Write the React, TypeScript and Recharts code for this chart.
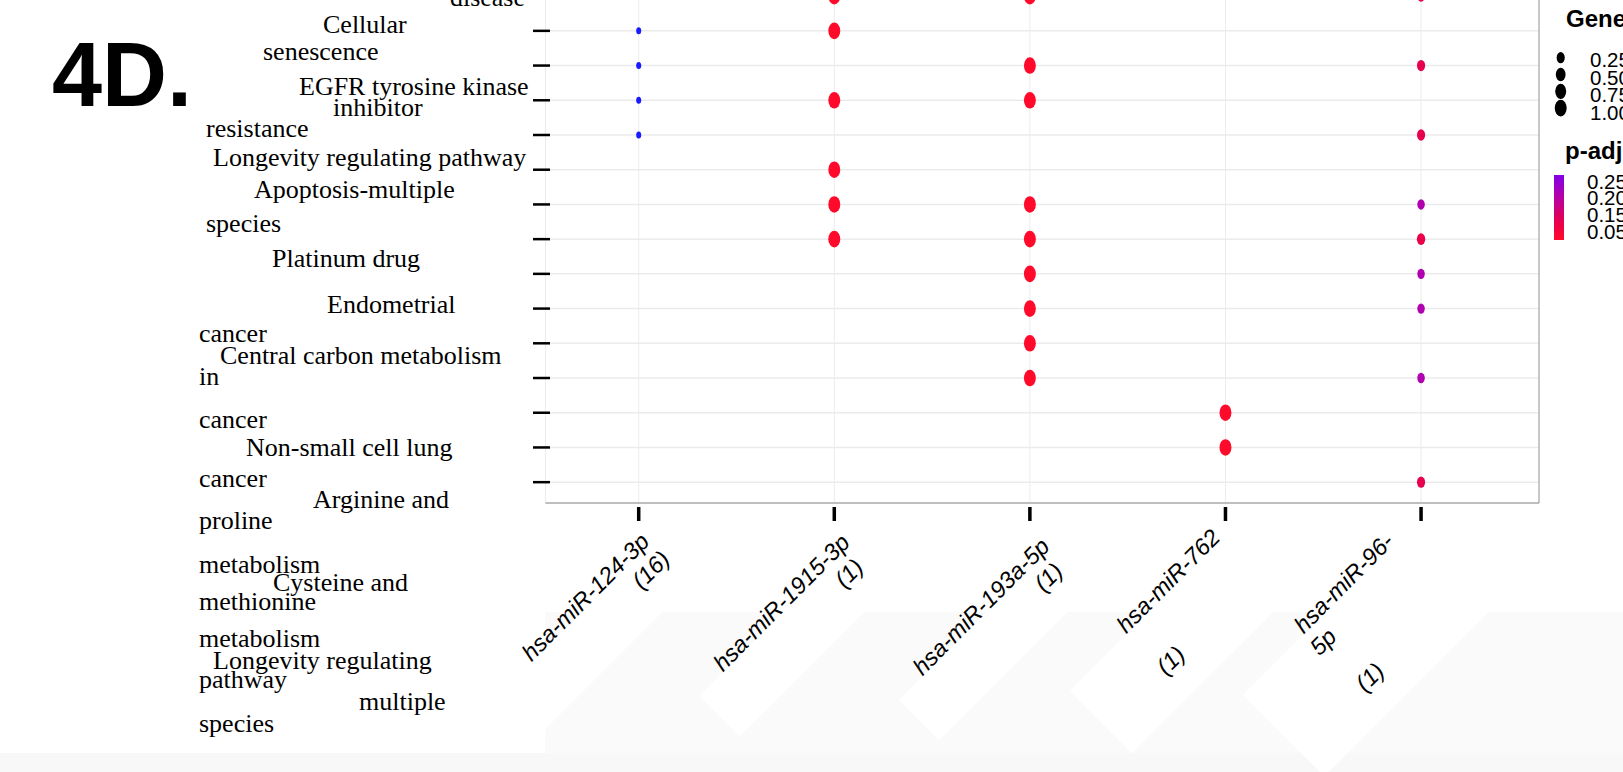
import { CartesianGrid, Legend, ReferenceLine, Scatter, ScatterChart, XAxis, YAxis } from "recharts";

// miRNAs on the x axis, with their gene counts
const mirnas = ["hsa-miR-124-3p", "hsa-miR-1915-3p", "hsa-miR-193a-5p", "hsa-miR-762", "hsa-miR-96-5p"];
const mirnaCounts = [16, 1, 1, 1, 1];

// pathways on the y axis (top row is cut off in the source)
const pathways = [
    "disease",
    "Cellular senescence",
    "EGFR tyrosine kinase inhibitor resistance",
    "Longevity regulating pathway",
    "Apoptosis-multiple species",
    "Platinum drug",
    "Endometrial cancer",
    "Central carbon metabolism in cancer",
    "Non-small cell lung cancer",
    "Arginine and proline metabolism",
    "Cysteine and methionine metabolism",
    "Longevity regulating pathway multiple species",
    "",
    "",
    "",
];

// [pathway row, GeneRatio, p.adjust]
const mir124 = [[0, 0.0625, 0.12], [1, 0.0625, 0.45], [2, 0.0625, 0.45], [3, 0.0625, 0.45], [4, 0.0625, 0.45]];
const mir1915 = [[0, 1, 0.03], [1, 1, 0.03], [3, 1, 0.03], [5, 1, 0.03], [6, 1, 0.03], [7, 1, 0.03]];
const mir193a = [[0, 1, 0.03], [2, 1, 0.03], [3, 1, 0.03], [6, 1, 0.03], [7, 1, 0.03], [8, 1, 0.03], [9, 1, 0.03], [10, 1, 0.03], [11, 1, 0.03]];
const mir762 = [[12, 1, 0.03], [13, 1, 0.03]];
const mir96 = [[0, 0.25, 0.1], [2, 0.25, 0.1], [4, 0.25, 0.1], [6, 0.18, 0.2], [7, 0.28, 0.09], [8, 0.18, 0.2], [9, 0.18, 0.2], [11, 0.18, 0.2], [14, 0.25, 0.1]];
const seriesByMirna = [mir124, mir1915, mir193a, mir762, mir96];

// legend
const sizeLegendValues = [0.25, 0.5, 0.75, 1.0];
const sizeLegendLabels = ["0.25", "0.50", "0.75", "1.00"];
const padjLegendLabels = ["0.25", "0.20", "0.15", "0.05"];

// colour scale for p.adjust
const pStops = [0.03, 0.1, 0.2, 0.27, 0.45];
const pColors = ["#ff0a2a", "#e6004f", "#b000b0", "#8000e6", "#1a1aff"];

// tick label text as it is wrapped in the figure
const yLabelLines = [
    ["disease"],
    ["Cellular", "senescence"],
    ["EGFR tyrosine kinase", "inhibitor", "resistance"],
    ["Longevity regulating pathway"],
    ["Apoptosis-multiple", "species"],
    ["Platinum drug"],
    ["Endometrial", "cancer"],
    ["Central carbon metabolism", "in", "cancer"],
    ["Non-small cell lung", "cancer"],
    ["Arginine and", "proline", "metabolism"],
    ["Cysteine and", "methionine", "metabolism"],
    ["Longevity regulating", "pathway", "multiple", "species"],
];
const xLabelLines = [
    ["hsa-miR-124-3p", "(16)"],
    ["hsa-miR-1915-3p", "(1)"],
    ["hsa-miR-193a-5p", "(1)"],
    ["hsa-miR-762", "(1)"],
    ["hsa-miR-96-", "5p", "(1)"],
];

// ---- layout / style ----
const OFF = 40; // svg is shifted up so the top row falls off the page
const yLabelPos: [number, number, string?][][] = [
    [[525, 6, "end"]],
    [[323, 33], [263, 60]],
    [[299, 95], [333, 116], [206, 137]],
    [[213, 166]],
    [[254, 198], [206, 232]],
    [[272, 267]],
    [[327, 313], [199, 342]],
    [[220, 364], [199, 385], [199, 428]],
    [[246, 456], [199, 487]],
    [[313, 508], [199, 529], [199, 573]],
    [[273, 591], [199, 610], [199, 647]],
    [[213, 669], [199, 688], [359, 710], [199, 732]],
];
const xLabelShift = [12, 17, 21, -4, -26];
const xLabelTop = [543, 544, 548, 539, 543];
const xLinePos: [number, number, string][][] = [
    [[0, 0, "end"], [2, 27, "end"]],
    [[0, 0, "end"], [-8, 27, "end"]],
    [[0, 0, "end"], [-8, 27, "end"]],
    [[0, 0, "end"], [-136, 58, "start"]],
    [[0, 0, "end"], [-134, 27, "start"], [-127, 85, "start"]],
];

const hex = (h: string) => [1, 3, 5].map((i) => parseInt(h.slice(i, i + 2), 16));
function padjColor(p: number) {
    if (p <= pStops[0]) return pColors[0];
    for (let i = 1; i < pStops.length; i++) {
        if (p <= pStops[i]) {
            const t = (p - pStops[i - 1]) / (pStops[i] - pStops[i - 1]);
            const a = hex(pColors[i - 1]);
            const b = hex(pColors[i]);
            const c = a.map((v, k) => Math.round(v + (b[k] - v) * t));
            return `rgb(${c[0]},${c[1]},${c[2]})`;
        }
    }
    return pColors[pColors.length - 1];
}
const radiusFor = (r: number) => 3.5 + 4.8 * Math.sqrt(Math.max(0, (r - 0.0625) / 0.9375));

const Bubble = (props: any) => {
    const { cx, cy, payload } = props;
    const ry = radiusFor(payload.ratio);
    return <ellipse cx={cx} cy={cy} rx={ry * 0.72} ry={ry} fill={padjColor(payload.padj)} />;
};

const YTick = (props: any) => {
    const { y, payload } = props;
    const i = payload.value;
    const pos = yLabelPos[i] || [];
    return (
        <g>
            <line x1={533} x2={550} y1={y} y2={y} stroke="#000" strokeWidth={2.5} />
            {(yLabelLines[i] || []).map((t, j) => (
                <text
                    key={j}
                    x={pos[j][0]}
                    y={pos[j][1] + OFF}
                    textAnchor={pos[j][2] === "end" ? "end" : "start"}
                    fontFamily="'Liberation Serif', 'Times New Roman', serif"
                    fontSize={26}
                    fill="#000"
                >
                    {t}
                </text>
            ))}
        </g>
    );
};

const XTick = (props: any) => {
    const { x, payload } = props;
    const i = payload.value - 1;
    const lines = xLabelLines[i] || [];
    const pos = xLinePos[i];
    const vmax = pos[pos.length - 1][1];
    return (
        <g>
            <g transform={`translate(${x + xLabelShift[i]}, ${xLabelTop[i] + OFF}) rotate(-45)`}>
                <rect x={-215} y={0} width={235} height={vmax + 30} fill="#fff" />
                {lines.map((t, j) => (
                    <text
                        key={j}
                        x={pos[j][0]}
                        y={pos[j][1]}
                        textAnchor={pos[j][2]}
                        fontFamily="'Liberation Sans', Arial, sans-serif"
                        fontStyle="italic"
                        fontSize={23.5}
                        fill="#000"
                    >
                        {t}
                    </text>
                ))}
            </g>
            <rect x={x - 1.75} y={507 + OFF} width={3.5} height={14} fill="#000" />
        </g>
    );
};

const barTop = 0.27;
const barBottom = 0.03;
const sans = "'Liberation Sans', Arial, sans-serif";
const LegendBox = () => (
    <svg width={100} height={260} style={{ overflow: "visible" }}>
        <defs>
            <linearGradient id="padjBar" x1="0" y1="0" x2="0" y2="1">
                {[0, 0.125, 0.25, 0.375, 0.5, 0.625, 0.75, 0.875, 1].map((o) => (
                    <stop key={o} offset={o} stopColor={padjColor(barTop + (barBottom - barTop) * o)} />
                ))}
            </linearGradient>
        </defs>
        <text x={26} y={27} fontFamily={sans} fontWeight="bold" fontSize={24}>
            GeneRatio
        </text>
        {sizeLegendValues.map((v, i) => {
            const ry = radiusFor(v);
            return <ellipse key={v} cx={20.7} cy={57.7 + i * 16.8} rx={ry * 0.72} ry={ry} fill="#000" />;
        })}
        {sizeLegendLabels.map((s, i) => (
            <text key={s} x={50} y={67 + i * 17.5} fontFamily={sans} fontSize={20.5}>
                {s}
            </text>
        ))}
        <text x={25} y={159} fontFamily={sans} fontWeight="bold" fontSize={24}>
            p-adj
        </text>
        <rect x={14} y={175} width={10} height={65} fill="url(#padjBar)" />
        {padjLegendLabels.map((s, i) => (
            <text key={s} x={47} y={188.5 + i * 16.7} fontFamily={sans} fontSize={20.5}>
                {s}
            </text>
        ))}
    </svg>
);

export default function App() {
    return (
        <div
            style={{
                position: "fixed",
                left: 0,
                top: 0,
                width: 1623,
                height: 772,
                overflow: "hidden",
                background: "#fff",
            }}
        >
            <div style={{ position: "absolute", left: 545, top: 612, width: 1078, height: 160, background: "#fafafa" }} />
            <div style={{ position: "absolute", left: 0, top: 753, width: 1623, height: 19, background: "#f8f8f8" }} />
            <div style={{ position: "absolute", left: 0, top: -OFF }}>
                <ScatterChart width={1623} height={772 + OFF} margin={{ top: 15.3, right: 84, bottom: 149, left: 485.5 }}>
                    <CartesianGrid horizontal vertical={false} stroke="#ebebeb" strokeWidth={1.5} />
                    <CartesianGrid horizontal={false} vertical stroke="#ececec" strokeWidth={1} />
                    <XAxis
                        type="number"
                        dataKey="x"
                        domain={[0.5235, 5.603]}
                        ticks={[1, 2, 3, 4, 5]}
                        allowDataOverflow
                        interval={0}
                        height={120}
                        tickLine={false}
                        axisLine={{ stroke: "#8c8c8c", strokeWidth: 1 }}
                        tick={<XTick />}
                    />
                    <YAxis
                        type="number"
                        dataKey="y"
                        domain={[-0.6, 14.6]}
                        ticks={pathways.map((_, i) => i)}
                        reversed
                        allowDataOverflow
                        interval={0}
                        width={60}
                        axisLine={false}
                        tickLine={false}
                        tick={<YTick />}
                    />
                    <ReferenceLine x={5.603} stroke="#9a9a9a" strokeWidth={1} />
                    {seriesByMirna.map((rows, m) => (
                        <Scatter
                            key={mirnas[m]}
                            name={`${mirnas[m]} (${mirnaCounts[m]})`}
                            data={rows.map(([row, ratio, padj]) => ({ x: m + 1, y: row, ratio, padj }))}
                            shape={<Bubble />}
                            isAnimationActive={false}
                        />
                    ))}
                    <Legend
                        layout="vertical"
                        align="center"
                        verticalAlign="middle"
                        content={() => <LegendBox />}
                        wrapperStyle={{ position: "absolute", left: 1540, top: OFF, width: 100, height: 260 }}
                    />
                </ScatterChart>
            </div>
            <svg width={400} height={140} style={{ position: "absolute", left: 0, top: 0 }}>
                <text x={52} y={106} fontFamily={sans} fontWeight="bold" fontSize={90} fill="#000">
                    4D.
                </text>
            </svg>
        </div>
    );
}
